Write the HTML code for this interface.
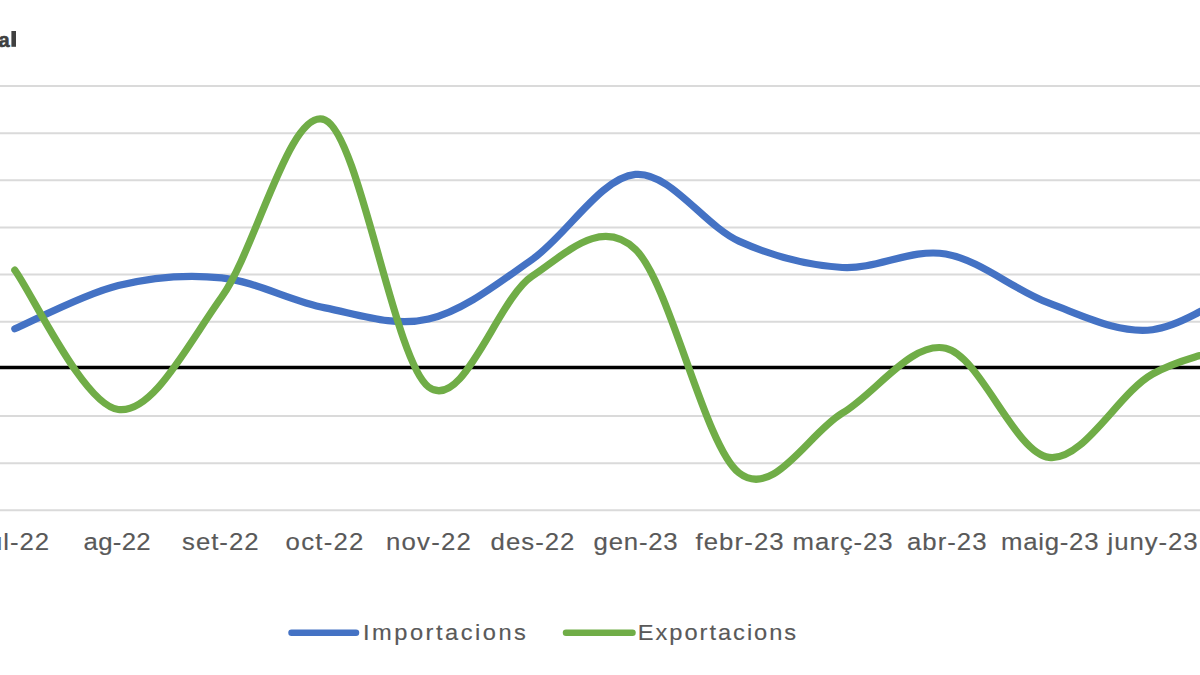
<!DOCTYPE html>
<html><head><meta charset="utf-8">
<style>
html,body{margin:0;padding:0;background:#fff;width:1200px;height:675px;overflow:hidden}
svg{display:block}
text{font-family:"Liberation Sans",sans-serif}
</style></head><body>
<svg width="1200" height="675" viewBox="0 0 1200 675">
<text id="T" x="9.6" y="46.8" font-size="20" font-weight="bold" fill="#404040" stroke="#404040" stroke-width="0.6" text-anchor="end">a</text>
<rect x="11.4" y="31" width="4.6" height="15.8" fill="#404040"/>
<g stroke="#dadada" stroke-width="2">
<line x1="0" y1="86.10" x2="1200" y2="86.10"/>
<line x1="0" y1="133.23" x2="1200" y2="133.23"/>
<line x1="0" y1="180.36" x2="1200" y2="180.36"/>
<line x1="0" y1="227.49" x2="1200" y2="227.49"/>
<line x1="0" y1="274.62" x2="1200" y2="274.62"/>
<line x1="0" y1="321.75" x2="1200" y2="321.75"/>
<line x1="0" y1="416.01" x2="1200" y2="416.01"/>
<line x1="0" y1="463.14" x2="1200" y2="463.14"/>
<line x1="0" y1="510.27" x2="1200" y2="510.27"/>
</g>
<line x1="0" y1="367.5" x2="1200" y2="367.5" stroke="#000" stroke-width="3.4"/>
<path d="M14.82 328.80 C32.06 321.58 83.78 293.98 118.25 285.50 C152.73 277.02 187.21 274.17 221.69 277.90 C256.16 281.63 290.64 301.03 325.12 307.90 C359.59 314.77 394.07 327.15 428.55 319.10 C463.03 311.05 497.50 283.72 531.98 259.60 C566.46 235.48 600.94 177.48 635.41 174.40 C669.89 171.32 704.37 225.58 738.85 241.10 C773.32 256.62 807.80 265.35 842.28 267.50 C876.75 269.65 911.23 248.05 945.71 254.00 C980.19 259.95 1014.66 290.58 1049.14 303.20 C1083.62 315.82 1118.10 333.85 1152.57 329.70 C1187.05 325.55 1238.77 286.87 1256.00 278.30" fill="none" stroke="#4472C4" stroke-width="7.2" stroke-linecap="round" stroke-linejoin="round"/>
<path d="M14.82 270.10 C32.06 293.33 83.78 405.02 118.25 409.50 C152.73 413.98 187.21 345.25 221.69 297.00 C256.16 248.75 290.64 105.00 325.12 120.00 C359.59 135.00 394.07 360.95 428.55 387.00 C463.03 413.05 497.50 299.23 531.98 276.30 C566.46 253.37 600.94 216.65 635.41 249.40 C669.89 282.15 704.37 445.50 738.85 472.80 C773.32 500.10 807.80 433.97 842.28 413.20 C876.75 392.43 911.23 340.83 945.71 348.20 C980.19 355.57 1014.66 453.10 1049.14 457.40 C1083.62 461.70 1118.10 393.30 1152.57 374.00 C1187.05 354.70 1238.77 347.00 1256.00 341.60" fill="none" stroke="#70AD47" stroke-width="7.2" stroke-linecap="round" stroke-linejoin="round"/>
<g font-size="23" fill="#595959" stroke="#595959" stroke-width="0.15">
<text id="L0" transform="translate(-18.60 549.60) scale(1.120 1.060)" letter-spacing="0.835">jul-22</text>
<text id="L1" transform="translate(83.60 549.60) scale(1.120 1.060)" letter-spacing="0.250">ag-22</text>
<text id="L2" transform="translate(182.00 549.60) scale(1.120 1.060)" letter-spacing="0.900">set-22</text>
<text id="L3" transform="translate(285.60 549.60) scale(1.120 1.060)" letter-spacing="1.100">oct-22</text>
<text id="L4" transform="translate(386.00 549.60) scale(1.120 1.060)" letter-spacing="1.100">nov-22</text>
<text id="L5" transform="translate(490.60 549.60) scale(1.120 1.060)" letter-spacing="0.900">des-22</text>
<text id="L6" transform="translate(593.60 549.60) scale(1.120 1.060)" letter-spacing="0.700">gen-23</text>
<text id="L7" transform="translate(695.40 549.60) scale(1.120 1.060)" letter-spacing="0.999">febr-23</text>
<text id="L8" transform="translate(792.60 549.60) scale(1.120 1.060)" letter-spacing="0.834">març-23</text>
<text id="L9" transform="translate(907.00 549.60) scale(1.120 1.060)" letter-spacing="0.900">abr-23</text>
<text id="L10" transform="translate(1001.00 549.60) scale(1.120 1.060)" letter-spacing="0.666">maig-23</text>
<text id="L11" transform="translate(1107.60 549.60) scale(1.120 1.060)" letter-spacing="0.835">juny-23</text>
</g>
<line x1="291.5" y1="632.8" x2="356" y2="632.8" stroke="#4472C4" stroke-width="6.5" stroke-linecap="round"/>
<line x1="566" y1="632.8" x2="632.5" y2="632.8" stroke="#70AD47" stroke-width="6.5" stroke-linecap="round"/>
<g font-size="21.5" fill="#595959" stroke="#595959" stroke-width="0.15">
<text id="G0" transform="translate(363.00 639.90) scale(1.100 1)" letter-spacing="2.273">Importacions</text>
<text id="G1" transform="translate(637.80 639.90) scale(1.100 1)" letter-spacing="1.795">Exportacions</text>
</g>
</svg>
</body></html>
